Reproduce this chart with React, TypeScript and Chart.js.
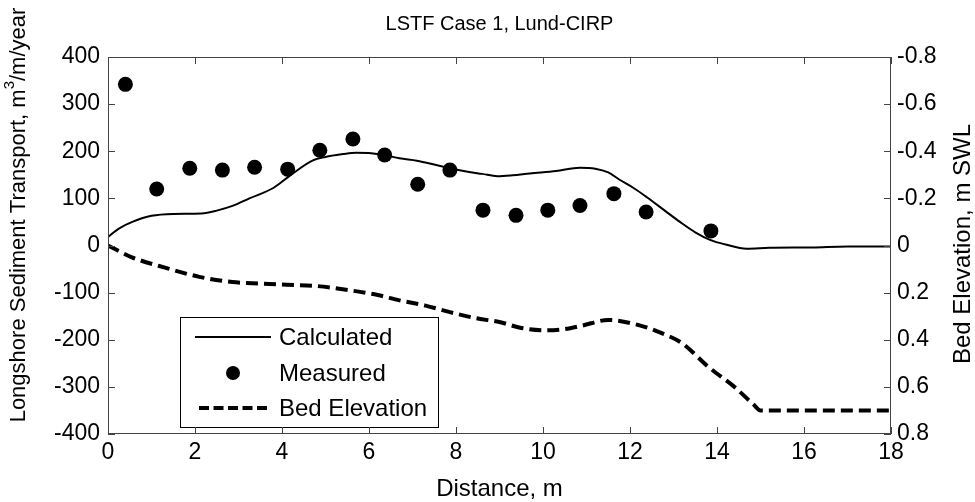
import React, { useEffect, useRef } from "react";
import { Chart, registerables } from "chart.js";

Chart.register(...registerables);

// Calculated longshore transport (m^3/m/year)
const calcX = [0, 0.25, 0.56, 1.0, 1.5, 2.15, 2.5, 2.86, 3.25, 3.8, 4.25, 4.7, 5.0, 5.4, 5.7, 6.05, 6.35, 6.7, 7.1, 7.5, 7.86, 8.3, 8.6, 8.95, 9.3, 9.7, 10.3, 10.85, 11.2, 11.5, 11.77, 12.1, 12.38, 12.8, 13.15, 13.5, 13.84, 14.2, 14.68, 15.2, 16.2, 17.0, 18.0];
const calcY = [18, 36, 50, 63, 67, 68, 74, 84, 100, 122, 153, 180, 188, 194, 197, 196, 192, 185, 180, 172, 164, 156, 152, 147, 149, 153, 158, 165, 163, 155, 139, 121, 103, 74, 50, 28, 12, 2, -7, -5, -4, -2, -2];

// Measured transport
const measX = [0.40, 1.12, 1.88, 2.63, 3.37, 4.13, 4.87, 5.63, 6.36, 7.12, 7.86, 8.62, 9.38, 10.11, 10.85, 11.63, 12.37, 13.86];
const measY = [342, 120, 164, 160, 166, 162, 202, 226, 192, 130, 160, 75, 64, 75, 85, 110, 71, 31];

// Bed elevation (m SWL, positive downward on reversed right axis)
const bedX = [0, 0.55, 1.33, 2.1, 2.86, 3.5, 4.0, 4.8, 5.55, 6.2, 6.7, 7.3, 7.86, 8.5, 9.0, 9.5, 10.1, 10.5, 10.9, 11.5, 12.2, 12.7, 13.2, 13.8, 14.4, 14.84, 15.0, 18.0];
const bedZ = [0, 0.05, 0.095, 0.133, 0.155, 0.162, 0.166, 0.172, 0.19, 0.21, 0.233, 0.255, 0.283, 0.31, 0.325, 0.35, 0.36, 0.355, 0.34, 0.316, 0.338, 0.37, 0.415, 0.515, 0.6, 0.675, 0.7, 0.7];

const xTicks = [0, 2, 4, 6, 8, 10, 12, 14, 16, 18];
const leftTicks = [-400, -300, -200, -100, 0, 100, 200, 300, 400];
const rightTicks = [-0.8, -0.6, -0.4, -0.2, 0, 0.2, 0.4, 0.6, 0.8];

const titleText = "LSTF Case 1, Lund-CIRP";
const xTitle = "Distance, m";
const yTitleParts = ["Longshore Sediment Transport, m", "3", "/m/year"];
const y2Title = "Bed Elevation, m SWL";
const legendLabels = ["Calculated", "Measured", "Bed Elevation"];

const FONT = "'Liberation Sans', Arial, Helvetica, sans-serif";

const decorPlugin = {
  id: "decor",
  afterDatasetsDraw(chart: any) {
    const ctx = chart.ctx as CanvasRenderingContext2D;
    const { left, right, top, bottom } = chart.chartArea;
    const xs = chart.scales.x;
    const ys = chart.scales.y;
    const y2 = chart.scales.y2;
    ctx.save();
    // legend
    const lx = 180, ly = 317, lw = 258, lh = 110;
    ctx.fillStyle = "#fff";
    ctx.fillRect(lx, ly, lw, lh);
    ctx.strokeStyle = "#000";
    ctx.lineWidth = 1;
    ctx.strokeRect(lx + 0.5, ly + 0.5, lw, lh);
    const rows = [337, 373, 408];
    ctx.strokeStyle = "#000";
    ctx.lineWidth = 2;
    ctx.beginPath();
    ctx.moveTo(195, rows[0]);
    ctx.lineTo(271, rows[0]);
    ctx.stroke();
    ctx.fillStyle = "#000";
    ctx.beginPath();
    ctx.arc(233, rows[1], 7, 0, Math.PI * 2);
    ctx.fill();
    ctx.lineWidth = 4;
    ctx.setLineDash([10, 4.5]);
    ctx.beginPath();
    ctx.moveTo(199, rows[2]);
    ctx.lineTo(271, rows[2]);
    ctx.stroke();
    ctx.setLineDash([]);
    ctx.font = `24px ${FONT}`;
    ctx.textAlign = "left";
    ctx.textBaseline = "middle";
    legendLabels.forEach((t, i) => ctx.fillText(t, 279, rows[i] + 1));

    // axes box + inward ticks
    ctx.strokeStyle = "#444";
    ctx.lineWidth = 1;
    ctx.strokeRect(left + 0.5, top + 0.5, right - left - 1, bottom - top - 1);
    const tl = 7;
    ctx.beginPath();
    xTicks.forEach((v) => {
      const px = Math.round(xs.getPixelForValue(v)) + 0.5;
      ctx.moveTo(px, bottom);
      ctx.lineTo(px, bottom - tl);
      ctx.moveTo(px, top);
      ctx.lineTo(px, top + tl);
    });
    leftTicks.forEach((v) => {
      const py = Math.round(ys.getPixelForValue(v)) + 0.5;
      ctx.moveTo(left, py);
      ctx.lineTo(left + tl, py);
    });
    rightTicks.forEach((v) => {
      const py = Math.round(y2.getPixelForValue(v)) + 0.5;
      ctx.moveTo(right, py);
      ctx.lineTo(right - tl, py);
    });
    ctx.stroke();

    // titles
    ctx.fillStyle = "#000";
    ctx.textAlign = "center";
    ctx.textBaseline = "middle";
    ctx.font = `20px ${FONT}`;
    ctx.fillText(titleText, (left + right) / 2, 24);
    ctx.font = `24px ${FONT}`;
    ctx.fillText(xTitle, (left + right) / 2, 489);

    // left title (rotated, with superscript)
    ctx.save();
    ctx.translate(18, 215);
    ctx.rotate(-Math.PI / 2);
    ctx.textAlign = "left";
    const f1 = `22px ${FONT}`;
    const f2 = `15px ${FONT}`;
    ctx.font = f1;
    const w1 = ctx.measureText(yTitleParts[0]).width;
    const w3 = ctx.measureText(yTitleParts[2]).width;
    ctx.font = f2;
    const w2 = ctx.measureText(yTitleParts[1]).width;
    let sx = -(w1 + w2 + w3) / 2;
    ctx.font = f1;
    ctx.fillText(yTitleParts[0], sx, 1);
    sx += w1;
    ctx.font = f2;
    ctx.fillText(yTitleParts[1], sx, -8);
    sx += w2;
    ctx.font = f1;
    ctx.fillText(yTitleParts[2], sx, 1);
    ctx.restore();

    // right title
    ctx.save();
    ctx.translate(963, 244);
    ctx.rotate(-Math.PI / 2);
    ctx.textAlign = "center";
    ctx.font = `24px ${FONT}`;
    ctx.fillText(y2Title, 0, 0);
    ctx.restore();

    ctx.restore();
  },
};

export default function App() {
  const ref = useRef<HTMLCanvasElement | null>(null);
  useEffect(() => {
    document.body.style.margin = "0";
    const canvas = ref.current;
    if (!canvas) return;
    const calcData = calcX.map((x, i) => ({ x, y: calcY[i] }));
    const measData = measX.map((x, i) => ({ x, y: measY[i] }));
    const bedData = bedX.map((x, i) => ({ x, y: bedZ[i] }));
    const tickFont = { family: FONT, size: 23 };
    const chart = new Chart(canvas, {
      type: "line",
      data: {
        datasets: [
          {
            label: legendLabels[0],
            data: calcData,
            yAxisID: "y",
            borderColor: "#000",
            borderWidth: 2,
            pointRadius: 0,
            cubicInterpolationMode: "monotone",
            fill: false,
          },
          {
            label: legendLabels[1],
            data: measData,
            yAxisID: "y",
            showLine: false,
            pointRadius: 7.5,
            pointBackgroundColor: "#000",
            pointBorderColor: "#000",
            pointBorderWidth: 0,
          },
          {
            label: legendLabels[2],
            data: bedData,
            yAxisID: "y2",
            borderColor: "#000",
            borderWidth: 4,
            borderDash: [12, 6],
            pointRadius: 0,
            cubicInterpolationMode: "monotone",
            fill: false,
          },
        ],
      } as any,
      options: {
        animation: false,
        responsive: false,
        maintainAspectRatio: false,
        layout: { padding: { top: 57, left: 0, right: 0, bottom: 0 } },
        plugins: {
          legend: { display: false },
          title: { display: false },
          tooltip: { enabled: false },
        },
        scales: {
          x: {
            type: "linear",
            min: 0,
            max: 18,
            grid: { display: false, drawTicks: false },
            border: { display: false },
            afterBuildTicks: (s: any) => {
              s.ticks = xTicks.map((v) => ({ value: v }));
            },
            afterFit: (s: any) => {
              s.height = 68;
            },
            ticks: { font: tickFont, color: "#000", padding: 5, maxRotation: 0, autoSkip: false },
          },
          y: {
            type: "linear",
            position: "left",
            min: -400,
            max: 400,
            grid: { display: false, drawTicks: false },
            border: { display: false },
            afterBuildTicks: (s: any) => {
              s.ticks = leftTicks.map((v) => ({ value: v }));
            },
            afterFit: (s: any) => {
              s.width = 108;
            },
            ticks: { font: tickFont, color: "#000", padding: 8, autoSkip: false },
          },
          y2: {
            type: "linear",
            position: "right",
            min: -0.8,
            max: 0.8,
            reverse: true,
            grid: { display: false, drawTicks: false },
            border: { display: false },
            afterBuildTicks: (s: any) => {
              s.ticks = rightTicks.map((v) => ({ value: v }));
            },
            afterFit: (s: any) => {
              s.width = 84;
            },
            ticks: {
              font: tickFont,
              color: "#000",
              padding: 6,
              autoSkip: false,
              callback: (v: any) => String(Math.round(Number(v) * 10) / 10),
            },
          },
        },
      } as any,
      plugins: [decorPlugin],
    });
    return () => chart.destroy();
  }, []);
  return (
    <div style={{ position: "absolute", left: 0, top: 0, width: 975, height: 502, background: "#fff" }}>
      <canvas ref={ref} width={975} height={502} style={{ display: "block" }} />
    </div>
  );
}
